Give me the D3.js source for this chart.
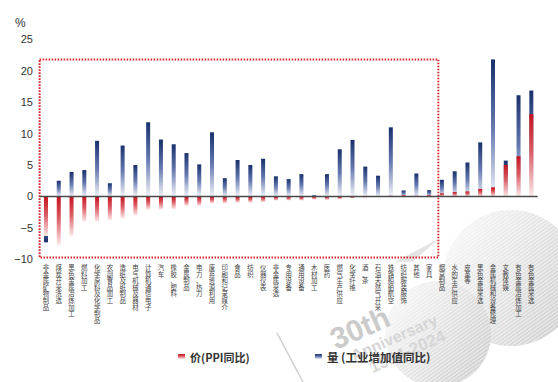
<!DOCTYPE html>
<html>
<head>
<meta charset="utf-8">
<script src="https://cdn.jsdelivr.net/npm/d3@7/dist/d3.min.js"></script>
<style>
  html, body { margin: 0; padding: 0; background: #fff; }
  svg { display: block; }
</style>
</head>
<body>
<svg id="chart" width="558" height="382"></svg>
<script>
const categories = [
  "非金属矿物制品","煤炭开采洗选","黑色金属冶炼加工","燃料加工","化学原料及化学制品",
  "农副食品加工","造纸及纸制品","电气机械及器材","计算机通信电子","汽车",
  "橡胶、塑料","金属制品","电力、热力","废弃资源利用","印刷和记录媒介",
  "食品","纺织","仪器仪表","非金属采选","专用设备",
  "通用设备","木材加工","医药","燃气生产供应","化学纤维",
  "酒、茶","石油天然气开采","铁路船舶航空","纺织服装服饰","其他",
  "家具","烟草制品","水的生产供应","皮革等","黑色金属采选",
  "金属机械和设备修理","文教体娱","有色金属冶炼加工","有色金属采选"
];
const ppiValues = [
  -6.3, -7.7, -6.3, -4.0, -4.0, -3.8, -3.5, -3.0, -2.1, -2.1,
  -2.0, -1.5, -1.5, -1.1, -1.1, -1.0, -1.0, -0.9, -0.65, -0.65,
  -0.65, -0.5, -0.55, -0.45, -0.3, -0.2, -0.1, 0.1, 0.2, 0.1,
  0.2, 0.5, 0.7, 0.8, 1.2, 1.45, 5.0, 6.4, 13.1
];
const outputValues = [
  -7.3, 2.5, 3.9, 4.2, 8.85, 2.1, 8.1, 5.0, 11.8, 9.05,
  8.3, 6.9, 5.1, 10.2, 2.9, 5.8, 5.0, 6.0, 3.2, 2.75,
  3.55, 0.2, 3.55, 7.5, 9.0, 4.75, 3.3, 11.0, 0.95, 3.65,
  1.0, 2.65, 4.0, 5.4, 8.6, 21.8, 5.7, 16.1, 16.85
];
const yTicks = [-10, -5, 0, 5, 10, 15, 20, 25];
const yUnit = "%";
const legendLabels = ["价(PPI同比)", "量 (工业增加值同比)"];
const watermark = ["30th", "Anniversary", "1994-2024"];

const svg = d3.select("#chart");
const defs = svg.append("defs");

function vGrad(id, stops) {
  const g = defs.append("linearGradient").attr("id", id)
    .attr("x1", 0).attr("y1", 0).attr("x2", 0).attr("y2", 1);
  stops.forEach(s => g.append("stop").attr("offset", s[0]).attr("stop-color", s[1]));
}
vGrad("redG", [[0, "#c5121d"], [0.45, "#dc5a62"], [1, "#fbe9ea"]]);
vGrad("blueG", [[0, "#18306c"], [0.5, "#6679b0"], [1, "#f1f3f9"]]);
vGrad("blueGNeg", [[0, "#f1f3f9"], [0.5, "#6679b0"], [1, "#18306c"]]);

const wg = defs.append("linearGradient").attr("id", "wmG")
  .attr("x1", 0).attr("y1", 0).attr("x2", 1).attr("y2", 0.6);
wg.append("stop").attr("offset", 0).attr("stop-color", "#fbfbfb");
wg.append("stop").attr("offset", 0.55).attr("stop-color", "#e6e6e6");
wg.append("stop").attr("offset", 1).attr("stop-color", "#d2d2d2");
const pat = defs.append("pattern").attr("id", "stripes")
  .attr("width", 3).attr("height", 3).attr("patternUnits", "userSpaceOnUse")
  .attr("patternTransform", "rotate(-35)");
pat.append("rect").attr("width", 3).attr("height", 1).attr("fill", "#ffffff").attr("opacity", 0.55);

// watermark decoration
const wm = svg.append("g");
[[511, 278, 68], [438, 334, 53]].forEach(c => {
  wm.append("circle").attr("cx", c[0]).attr("cy", c[1]).attr("r", c[2]).attr("fill", "url(#wmG)");
  wm.append("circle").attr("cx", c[0]).attr("cy", c[1]).attr("r", c[2]).attr("fill", "url(#stripes)");
});
wm.append("path").attr("d", "M395,262 L440,238 L412,262 Z").attr("fill", "#e4e4e4");
wm.append("line").attr("x1", 277).attr("y1", 333).attr("x2", 303).attr("y2", 382)
  .attr("stroke", "#cfcfcf").attr("stroke-width", 1.5);
const wt = wm.append("g").attr("transform", "translate(336,350) rotate(-24)")
  .attr("font-family", "Liberation Sans, Arial, sans-serif").attr("font-weight", "bold").attr("fill", "#cbcbcb");
wt.append("text").attr("x", 0).attr("y", 0).attr("font-size", 30).text(watermark[0]);
wt.append("text").attr("x", 12).attr("y", 18).attr("font-size", 16).attr("fill", "#d6d6d6").text(watermark[1]);
wt.append("text").attr("x", 24).attr("y", 36).attr("font-size", 17).attr("fill", "#d6d6d6").text(watermark[2]);

// scales
const x = d3.scaleBand().domain(categories).range([39.6, 537.7]);
const y = d3.scaleLinear().domain([-10, 25]).range([259.3, 39.3]);
const barW = 4;

// y axis
const yAxis = d3.axisLeft(y).tickValues(yTicks).tickSize(0).tickPadding(6);
const ag = svg.append("g").attr("transform", "translate(39,0)").call(yAxis);
ag.select(".domain").remove();
ag.selectAll("text").attr("font-family", "Liberation Sans, Arial, sans-serif")
  .attr("font-size", 11).attr("fill", "#333");
svg.append("text").attr("x", 15).attr("y", 27).attr("font-family", "Liberation Sans, Arial, sans-serif")
  .attr("font-size", 12).attr("fill", "#333").text(yUnit);

// dotted highlight box
svg.append("rect")
  .attr("x", x.range()[0]).attr("y", y(21.8))
  .attr("width", x(categories[31]) + x.bandwidth() * 0.22 - x.range()[0])
  .attr("height", y(-9.7) - y(21.8))
  .attr("fill", "none").attr("stroke", "#d42a2f").attr("stroke-width", 2)
  .attr("stroke-dasharray", "1.6,1.4");

// bars
const cx = d => x(d) + x.bandwidth() / 2;
svg.append("g").selectAll("rect").data(categories).join("rect")
  .attr("x", d => cx(d) - barW / 2)
  .attr("width", barW)
  .attr("y", (d, i) => y(Math.max(0, outputValues[i])))
  .attr("height", (d, i) => Math.abs(y(outputValues[i]) - y(0)))
  .attr("fill", (d, i) => outputValues[i] < 0 ? "url(#blueGNeg)" : "url(#blueG)");
svg.append("g").selectAll("rect").data(categories).join("rect")
  .attr("x", d => cx(d) - barW / 2)
  .attr("width", barW)
  .attr("y", (d, i) => y(Math.max(0, ppiValues[i])))
  .attr("height", (d, i) => Math.abs(y(ppiValues[i]) - y(0)))
  .attr("fill", "url(#redG)");

// zero line
svg.append("line").attr("x1", x.range()[0]).attr("x2", x.range()[1])
  .attr("y1", y(0)).attr("y2", y(0)).attr("stroke", "#4a4a4a").attr("stroke-width", 1.5);

// category labels: one upright character per line, stacked vertically
const lg = svg.append("g").attr("font-family", "Noto Sans CJK SC, sans-serif")
  .attr("font-size", 6.4).attr("fill", "#444").attr("text-anchor", "middle");
categories.forEach(c => {
  Array.from(c).forEach((ch, j) => {
    lg.append("text").attr("x", cx(c)).attr("y", 270 + j * 6.6).text(ch);
  });
});

// legend
const leg = svg.append("g").attr("font-family", "Noto Sans CJK SC, sans-serif")
  .attr("font-weight", "bold").attr("font-size", 11).attr("fill", "#333");
leg.append("rect").attr("x", 178).attr("y", 354).attr("width", 7).attr("height", 5).attr("fill", "url(#redG)");
leg.append("text").attr("x", 190).attr("y", 361.5).text(legendLabels[0]);
leg.append("rect").attr("x", 315).attr("y", 354).attr("width", 7).attr("height", 5).attr("fill", "url(#blueG)");
leg.append("text").attr("x", 327).attr("y", 361.5).attr("font-size", 11.5).text(legendLabels[1]);
</script>
</body>
</html>
